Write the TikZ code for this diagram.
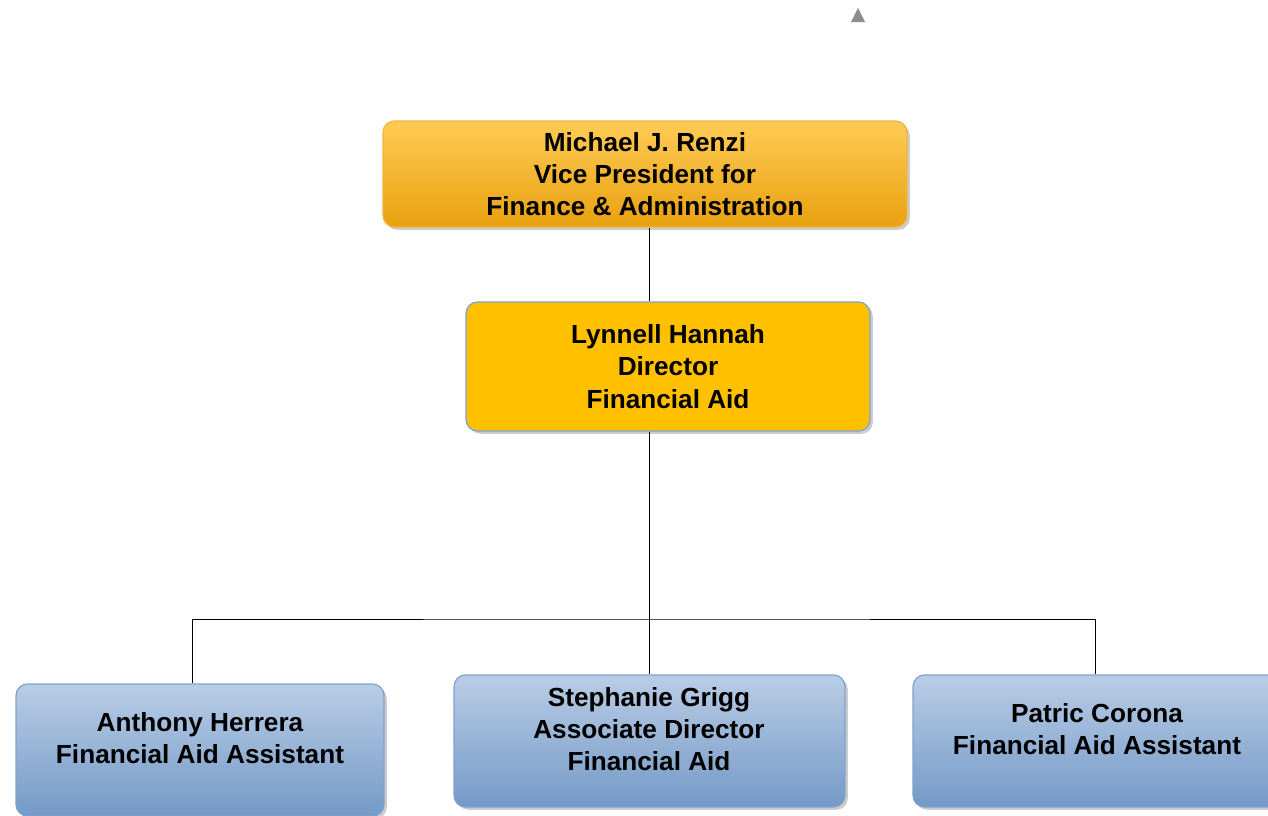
\documentclass[tikz,border=0pt]{standalone}
\usepackage{fontspec}
\setmainfont{Liberation Sans}
\usepackage{tikz}
\usetikzlibrary{shadows,positioning}
\definecolor{vptop}{HTML}{FFCB55}
\definecolor{vpbot}{HTML}{E8A10F}
\definecolor{vpline}{HTML}{F0B43C}
\definecolor{dirfill}{HTML}{FFC000}
\definecolor{blueline}{HTML}{7EA2D0}
\definecolor{bluetop}{HTML}{B9CDE5}
\definecolor{bluebot}{HTML}{7499C7}

\begin{document}
\begin{tikzpicture}[x=0.02cm, y=-0.02cm,
    box/.style={rectangle, rounded corners=6.5pt, inner sep=0pt, line width=0.7pt,
      drop shadow={shadow xshift=1.6pt, shadow yshift=-1.6pt, opacity=0.4}},
    vpbox/.style={box, draw=vpline, top color=vptop, bottom color=vpbot},
    dirbox/.style={box, draw=blueline, fill=dirfill},
    staff/.style={box, draw=blueline, top color=bluetop, bottom color=bluebot},
    txt/.style={align=center, font=\bfseries\fontsize{14.9}{18.4}\selectfont},
    link/.style={draw=black, line width=0.5pt}]
      \path[use as bounding box, clip] (0,0) rectangle (1268,815);
      % Define nodes
      \node[vpbox, txt, minimum width=10.48cm, minimum height=2.12cm] (renzi) at (645,174)
        {Michael J. Renzi\\Vice President for\\Finance \& Administration};
      \node[dirbox, txt, minimum width=8.08cm, minimum height=2.58cm] (hannah) at (668,366.5)
        {Lynnell Hannah\\Director\\Financial Aid};
      \node[staff, minimum width=7.36cm, minimum height=2.64cm] (herrera) at (200,750) {};
      \node[staff, minimum width=7.82cm, minimum height=2.64cm] (grigg) at (649.5,741) {};
      \node[staff, minimum width=7.36cm, minimum height=2.64cm] (corona) at (1097,741) {};
      \node[txt] (herreraText) at (200,738) {Anthony Herrera\\Financial Aid Assistant};
      \node[txt] (griggText) at (649,729) {Stephanie Grigg\\Associate Director\\Financial Aid};
      \node[txt] (coronaText) at (1097,729) {Patric Corona\\Financial Aid Assistant};
      \coordinate (bus) at (649.5,619);
      % Connectors
      \draw[link] (renzi.south -| grigg.north) -- (hannah.north -| grigg.north);
      \draw[link] (hannah.south -| grigg.north) -- (grigg.north);
      \draw[link] ([xshift=-0.16cm]herrera.north) |- (bus) -| ([xshift=-0.04cm]corona.north);
      % marker
      \fill[gray!90] (851,22) -- (865,22) -- (858,8) -- cycle;
\end{tikzpicture}
\end{document}
